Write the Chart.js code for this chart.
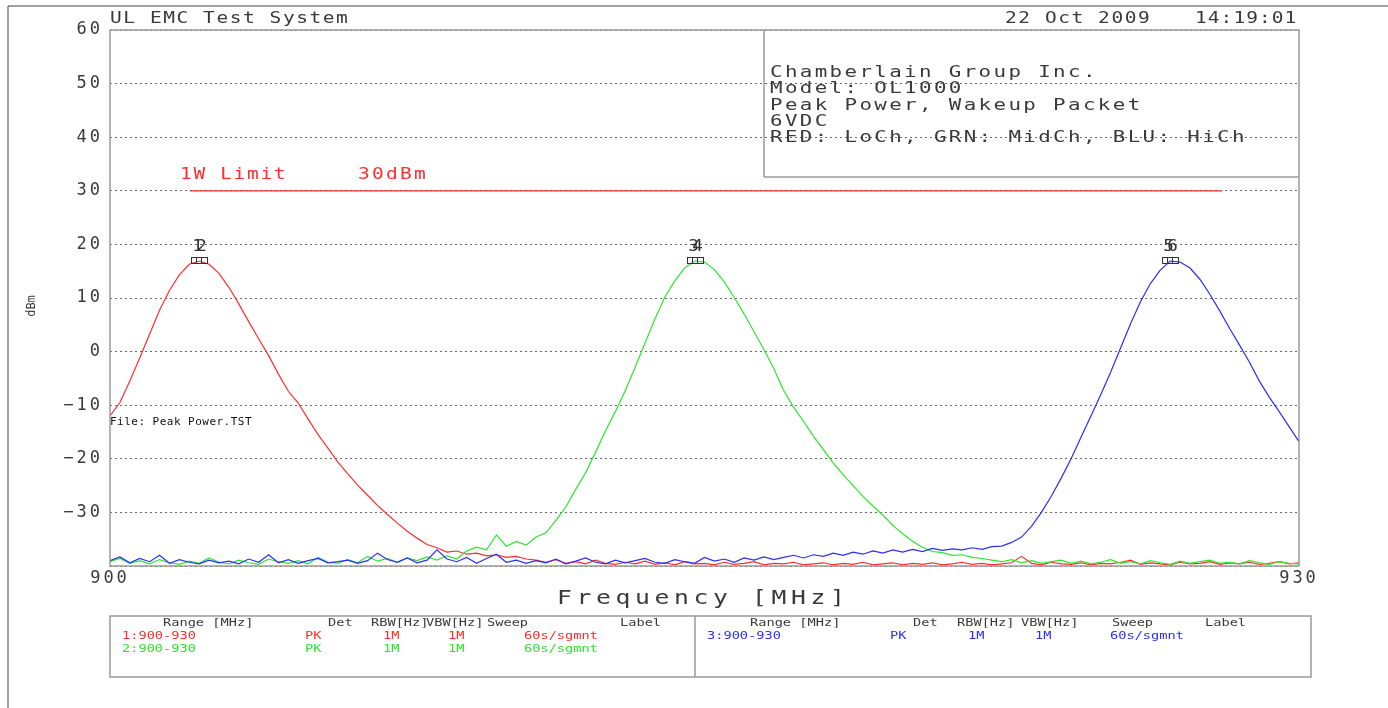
<!DOCTYPE html>
<html>
<head>
<meta charset="utf-8">
<script src="https://cdn.jsdelivr.net/npm/chart.js@4.4.0/dist/chart.umd.min.js"></script>
<style>
html,body{margin:0;padding:0;background:#fff;}
canvas{display:block;}
</style>
</head>
<body>
<canvas id="c" width="1388" height="708"></canvas>
<script>
// ---- data (frequency in MHz, level in dBm) ----
const freq = [
900,900.25,900.5,900.75,901,901.25,901.5,901.75,902,902.25,902.5,902.75,903,903.25,903.5,903.75,
904,904.25,904.5,904.75,905,905.25,905.5,905.75,906,906.25,906.5,906.75,907,907.25,907.5,907.75,
908,908.25,908.5,908.75,909,909.25,909.5,909.75,910,910.25,910.5,910.75,911,911.25,911.5,911.75,
912,912.25,912.5,912.75,913,913.25,913.5,913.75,914,914.25,914.5,914.75,915,915.25,915.5,915.75,
916,916.25,916.5,916.75,917,917.25,917.5,917.75,918,918.25,918.5,918.75,919,919.25,919.5,919.75,
920,920.25,920.5,920.75,921,921.25,921.5,921.75,922,922.25,922.5,922.75,923,923.25,923.5,923.75,
924,924.25,924.5,924.75,925,925.25,925.5,925.75,926,926.25,926.5,926.75,927,927.25,927.5,927.75,
928,928.25,928.5,928.75,929,929.25,929.5,929.75,930];

const redLoCh = [
-12,-9.5,-5.5,-1.2,3.3,7.7,11.4,14.3,16.3,16.9,16.3,14.6,12,8.9,5.6,2.4,
-0.7,-4.2,-7.4,-9.6,-12.6,-15.5,-18,-20.6,-22.8,-24.9,-26.8,-28.7,-30.4,-32,-33.5,-34.8,
-36,-36.6,-37.4,-37.2,-37.8,-37.6,-38.1,-37.9,-38.4,-38.2,-38.7,-38.9,-39.3,-38.8,-39.5,-39.2,
-39.6,-38.9,-39.5,-39.7,-39.3,-39.6,-39.1,-39.7,-39.4,-39.8,-39.2,-39.6,-39.5,-39.8,-39.3,-39.7,
-39.5,-39.2,-39.8,-39.5,-39.6,-39.3,-39.8,-39.6,-39.4,-39.8,-39.5,-39.7,-39.3,-39.8,-39.6,-39.4,
-39.8,-39.5,-39.7,-39.4,-39.8,-39.6,-39.3,-39.7,-39.5,-39.8,-39.6,-39.4,-38.2,-39.5,-39.8,-39.3,
-39.6,-39.7,-39.4,-39.8,-39.5,-39.6,-39.3,-38.9,-39.7,-39.4,-39.6,-39.8,-39.3,-39.6,-39.5,-39.2,
-39.7,-39.4,-39.6,-39.3,-39.7,-39.5,-39.2,-39.6,-39.4];

const greenMidCh = [
-39.2,-38.6,-39.5,-39.0,-39.6,-38.8,-39.4,-39.7,-39.1,-39.5,-38.5,-39.3,-39.6,-38.9,-39.4,-39.7,
-38.7,-39.2,-39.5,-39.0,-39.6,-38.4,-39.3,-39.5,-38.8,-39.4,-38.2,-39.1,-38.6,-39.3,-38.5,-39.0,
-38.3,-38.9,-38.1,-38.7,-37.2,-36.5,-37.0,-34.2,-36.3,-35.4,-36.1,-34.6,-33.8,-31.5,-29.0,-25.7,
-22.6,-18.8,-14.8,-11.2,-7.3,-2.9,1.6,6.1,10.2,13.2,15.6,16.9,16.7,15.3,13.0,10.1,
7.0,3.7,0.4,-3.2,-7.3,-10.4,-13.0,-15.8,-18.3,-20.8,-23.0,-25.0,-27.0,-28.8,-30.5,-32.4,
-34.0,-35.4,-36.5,-37.3,-37.5,-38.0,-37.9,-38.4,-38.6,-38.9,-39.2,-38.8,-39.4,-39.0,-39.5,-39.2,
-38.9,-39.5,-39.1,-39.6,-39.3,-38.8,-39.5,-39.2,-39.6,-39.0,-39.4,-39.7,-39.1,-39.5,-39.2,-38.9,
-39.5,-39.3,-39.6,-39.0,-39.4,-39.7,-39.2,-39.5,-39.6];

const blueHiCh = [
-39.0,-38.3,-39.4,-38.6,-39.2,-38.0,-39.5,-38.8,-39.3,-39.6,-38.9,-39.4,-39.1,-39.6,-38.7,-39.3,
-37.9,-39.4,-38.8,-39.5,-39.0,-38.6,-39.4,-39.2,-38.9,-39.5,-39.0,-37.6,-38.8,-39.3,-38.5,-39.4,
-38.9,-37.0,-38.7,-39.2,-38.4,-39.5,-38.6,-37.8,-39.3,-38.9,-39.5,-39.0,-39.4,-38.7,-39.6,-39.1,
-38.5,-39.3,-39.6,-38.9,-39.4,-39.0,-38.6,-39.3,-39.5,-38.8,-39.2,-39.5,-38.4,-39.1,-38.7,-39.3,
-38.5,-38.9,-38.3,-38.8,-38.4,-38.0,-38.5,-37.9,-38.2,-37.6,-38.0,-37.4,-37.8,-37.2,-37.6,-37.0,
-37.4,-36.9,-37.3,-36.7,-37.1,-36.8,-37.0,-36.6,-36.9,-36.4,-36.3,-35.6,-34.6,-32.6,-30.0,-27.0,
-23.6,-20.0,-16.0,-12.0,-8.0,-3.8,0.7,5.2,9.3,12.7,15.2,16.9,16.7,15.6,13.5,10.7,
7.6,4.3,1.2,-2.0,-5.5,-8.5,-11.2,-14.0,-16.8];

const limitFreq = [902.02, 928.06];
const limitLevel = [30, 30];

const yTickValues = [60, 50, 40, 30, 20, 10, 0, -10, -20, -30];
// peak marker labels per trace: LoCh, MidCh, HiCh
const markerLabels = {LoCh: ['1','2'], MidCh: ['3','4'], HiCh: ['5','6']};

const infoLines = ['Chamberlain Group Inc.', 'Model: OL1000', 'Peak Power, Wakeup Packet', '6VDC', 'RED: LoCh, GRN: MidCh, BLU: HiCh'];
const tableHeader = ['Range [MHz]', 'Det', 'RBW[Hz]', 'VBW[Hz]', 'Sweep', 'Label'];
const traceRows = [
  ['1:900-930', 'PK', '1M', '1M', '60s/sgmnt'],
  ['2:900-930', 'PK', '1M', '1M', '60s/sgmnt'],
  ['3:900-930', 'PK', '1M', '1M', '60s/sgmnt']
];

// ---- styles ----
const RED = 'rgb(255,45,45)', GREEN = 'rgb(45,230,45)', BLUE = 'rgb(45,45,255)';
const TXT = '#3a3a3a', FRAME = '#9a9a9a';
const MONO = '"DejaVu Sans Mono", "Liberation Mono", monospace';

function pts(ys) { return freq.map((f, i) => ({x: f, y: ys[i]})); }

// draw text with a target per-character advance, stretched like a plotter font
function txt(ctx, s, x, y, size, color, advance, align, sx) {
  sx = sx || 1.3;
  const w = 0.602 * size;
  const sp = advance ? Math.max(0, advance / sx - w) : 0;
  ctx.save();
  ctx.font = size + 'px ' + MONO;
  ctx.fillStyle = color;
  ctx.textBaseline = 'middle';
  if ('letterSpacing' in ctx) ctx.letterSpacing = sp + 'px';
  let total = s.length * (w + sp) * sx;
  let x0 = x;
  if (align === 'center') x0 = x - total / 2;
  else if (align === 'right') x0 = x - total;
  ctx.translate(x0, y);
  ctx.scale(sx, 1);
  ctx.textAlign = 'left';
  ctx.fillText(s, 0, 0);
  ctx.restore();
}
function line(ctx, x1, y1, x2, y2, color, w) {
  ctx.save(); ctx.strokeStyle = color; ctx.lineWidth = w || 1;
  ctx.beginPath(); ctx.moveTo(x1, y1); ctx.lineTo(x2, y2); ctx.stroke(); ctx.restore();
}

const decor = {
  id: 'decor',
  beforeDraw(chart) {
    const ctx = chart.ctx;
    ctx.save(); ctx.fillStyle = '#fff'; ctx.fillRect(0, 0, chart.width, chart.height); ctx.restore();
    if ('letterSpacing' in ctx) ctx.letterSpacing = '3px';
  },
  afterDatasetsDraw(chart) {
    const ctx = chart.ctx;
    chart.data.datasets.forEach((ds, di) => {
      const labs = markerLabels[ds.label];
      if (!labs) return;
      let best = 0;
      ds.data.forEach((p, i) => { if (p.y > ds.data[best].y) best = i; });
      const el = chart.getDatasetMeta(di).data[best];
      const x = Math.round(el.x) + 0.5, y = Math.round(el.y) + 0.5;
      ctx.save();
      ctx.strokeStyle = '#333'; ctx.lineWidth = 1;
      ctx.strokeRect(x - 8, y - 4, 16, 6);
      ctx.restore();
      line(ctx, x - 3, y - 4, x - 3, y + 2, '#333', 1);
      line(ctx, x + 2, y - 4, x + 2, y + 2, '#333', 1);
      txt(ctx, labs[0], x - 2, y - 15, 16, '#333', 0, 'center', 1.1);
      txt(ctx, labs[1], x + 2, y - 15, 16, '#333', 0, 'center', 1.1);
    });
  },
  afterDraw(chart) {
    const ctx = chart.ctx;
    if ('letterSpacing' in ctx) ctx.letterSpacing = '0px';
    const a = chart.chartArea;
    // plot frame
    ctx.save(); ctx.strokeStyle = FRAME; ctx.lineWidth = 1.5;
    ctx.strokeRect(a.left, a.top, a.right - a.left, a.bottom - a.top); ctx.restore();
    // page border
    line(ctx, 8, 6, 8, 708, '#444', 1);
    line(ctx, 8, 6, 1388, 6, '#444', 1);
    // header
    txt(ctx, 'UL EMC Test System', 110, 19, 15, TXT, 13.3);
    txt(ctx, '22 Oct 2009', 1005, 19, 15, TXT, 13.3);
    txt(ctx, '14:19:01', 1195, 19, 15, TXT, 12.8);
    // info box
    line(ctx, 764, a.top, 764, 177, FRAME, 1.5);
    line(ctx, 764, 177, a.right, 177, FRAME, 1.5);
    infoLines.forEach((s, i) => txt(ctx, s, 770, 73 + i * 16.2, 16, TXT, 14.9));
    // limit label
    txt(ctx, '1W Limit', 180, 175, 15, RED, 13.4);
    txt(ctx, '30dBm', 358, 175, 15, RED, 14);
    // file label
    txt(ctx, 'File: Peak Power.TST', 110, 422, 10, '#111', 7.1, 'left', 1.1);
    // axis titles
    txt(ctx, 'Frequency [MHz]', 557, 599, 19, TXT, 19.5);
    ctx.save(); ctx.translate(32, 306); ctx.rotate(-Math.PI / 2);
    txt(ctx, 'dBm', 0, 0, 12, TXT, 0, 'center', 1.0);
    ctx.restore();
    // settings table
    ctx.save(); ctx.strokeStyle = FRAME; ctx.lineWidth = 1.5;
    ctx.strokeRect(110, 616, 1201, 61); ctx.restore();
    line(ctx, 695, 616, 695, 677, FRAME, 1.5);
    const hdrL = [163, 328, 371, 426, 487, 620];
    const hdrR = [750, 913, 957, 1021, 1112, 1205];
    tableHeader.forEach((h, i) => {
      txt(ctx, h, hdrL[i], 623, 10.5, TXT, 7.3);
      txt(ctx, h, hdrR[i], 623, 10.5, TXT, 7.3);
    });
    const colL = [122, 305, 383, 448, 524];
    const colR = [707, 890, 968, 1035, 1110];
    const rowCol = [RED, GREEN, BLUE];
    traceRows.forEach((r, ri) => {
      const cols = ri < 2 ? colL : colR;
      const yy = ri < 2 ? 636 + ri * 13 : 636;
      r.forEach((c, ci) => txt(ctx, c, cols[ci], yy, 10.5, rowCol[ri], 8.2));
    });
  }
};

new Chart(document.getElementById('c'), {
  type: 'line',
  data: {
    datasets: [
      {label: 'HiCh', data: pts(blueHiCh), borderColor: BLUE, borderWidth: 1.2, pointRadius: 0, tension: 0, order: 0},
      {label: 'MidCh', data: pts(greenMidCh), borderColor: GREEN, borderWidth: 1.2, pointRadius: 0, tension: 0, order: 1},
      {label: 'LoCh', data: pts(redLoCh), borderColor: RED, borderWidth: 1.2, pointRadius: 0, tension: 0, order: 2},
      {label: '1W Limit', data: limitFreq.map((f, i) => ({x: f, y: limitLevel[i]})), borderColor: RED, borderWidth: 1.3, pointRadius: 0, order: 3}
    ]
  },
  options: {
    responsive: false,
    animation: false,
    devicePixelRatio: 1,
    layout: {padding: {top: 30, right: 89, left: 0, bottom: 0}},
    plugins: {legend: {display: false}, tooltip: {enabled: false}, title: {display: false}},
    scales: {
      x: {
        type: 'linear', min: 900, max: 930,
        afterFit(s) { s.height = 142; },
        grid: {display: false, drawTicks: false},
        border: {display: false},
        ticks: {stepSize: 30, maxRotation: 0, autoSkip: false, padding: 2, color: TXT,
                font: {family: MONO, size: 17}}
      },
      y: {
        type: 'linear', min: -40, max: 60,
        afterFit(s) { s.width = 110; },
        afterBuildTicks(s) { s.ticks = [-40].concat(yTickValues.slice().reverse()).map(v => ({value: v})); },
        grid: {color: '#6a6a6a', lineWidth: 1, drawTicks: false},
        border: {display: false, dash: [2, 3]},
        ticks: {padding: 7, color: TXT, autoSkip: false, font: {family: MONO, size: 17},
                callback: v => yTickValues.includes(v) ? String(v).replace('-', '\u2212') : ''}
      }
    }
  },
  plugins: [decor]
});
</script>
</body>
</html>
